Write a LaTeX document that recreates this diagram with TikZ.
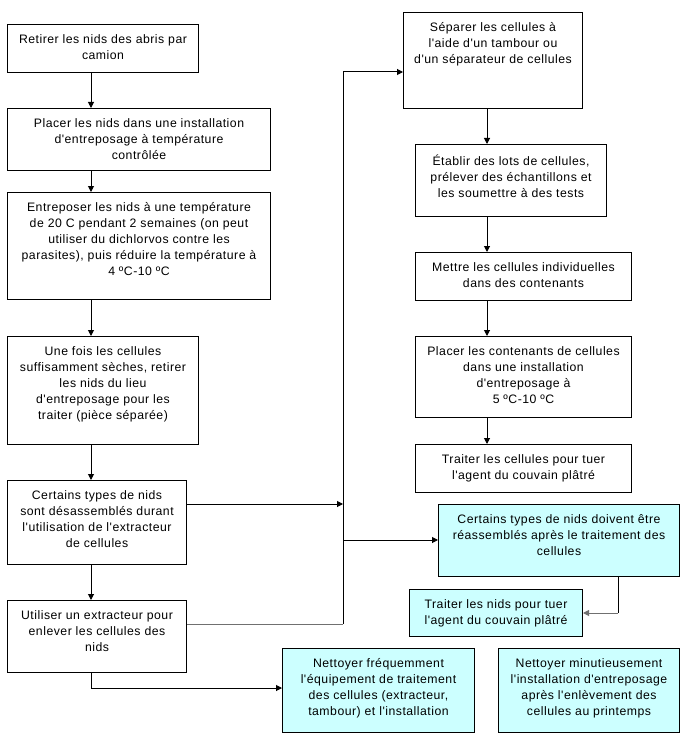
\documentclass[tikz,border=0pt]{standalone}
\usepackage{fontspec}
\setmainfont{Liberation Sans}[Ligatures=TeXOff, LetterSpace=4]
\usetikzlibrary{arrows.meta}
\definecolor{cyanbox}{HTML}{CCFFFF}
\definecolor{greyline}{HTML}{707070}
\newcommand\mkbox[7]{%
  \node[#2, minimum width={(#5-#3)*0.75pt}, minimum height={(#6-#4)*0.75pt}] (#1) at (#3,#4) {};
  \node[txt, yshift=-7.7pt] (#1t) at (#1.north) {#7};}
\begin{document}
\begin{tikzpicture}[x=0.75pt,y=-0.75pt,
  box/.style={draw, line width=0.75pt, fill=white, inner sep=0pt, anchor=north west},
  cbox/.style={box, fill=cyanbox},
  txt/.style={anchor=north, align=center, inner sep=0pt,
    font=\fontsize{9.2pt}{12pt}\selectfont,
    execute at begin node={\rule{0pt}{9.5pt}}},
  arr/.style={-{Triangle[length=4.5pt,width=4.5pt]}, line width=0.75pt},
  ln/.style={line width=0.75pt}]
\useasboundingbox (0,0) rectangle (683,738);
% left column
\mkbox{b1}{box}{7}{24}{198}{72}{Retirer les nids des abris par\\camion}
\mkbox{b2}{box}{7}{108}{270}{170}{Placer les nids dans une installation\\d'entreposage à température\\contrôlée}
\mkbox{b3}{box}{7}{192}{270}{299}{Entreposer les nids à une température\\de 20 C pendant 2 semaines (on peut\\utiliser du dichlorvos contre les\\parasites), puis réduire la température à\\4 ºC-10 ºC}
\mkbox{b4}{box}{7}{336}{198}{444}{Une fois les cellules\\suffisamment sèches, retirer\\les nids du lieu\\d'entreposage pour les\\traiter (pièce séparée)}
\mkbox{b5}{box}{7}{480}{186}{564}{Certains types de nids\\sont désassemblés durant\\l'utilisation de l'extracteur\\de cellules}
\mkbox{b6}{box}{7}{600}{186}{672}{Utiliser un extracteur pour\\enlever les cellules des\\nids}
% right column
\mkbox{r1}{box}{403}{12}{582}{108}{Séparer les cellules à\\l'aide d'un tambour ou\\d'un séparateur de cellules}
\mkbox{r2}{box}{415}{144}{606}{216}{Établir des lots de cellules,\\prélever des échantillons et\\les soumettre à des tests}
\mkbox{r3}{box}{415}{252}{631}{300}{Mettre les cellules individuelles\\dans des contenants}
\mkbox{r4}{box}{415}{336}{631}{417}{Placer les contenants de cellules\\dans une installation\\d'entreposage à\\5 ºC-10 ºC}
\mkbox{r5}{box}{415}{444}{631}{492}{Traiter les cellules pour tuer\\l'agent du couvain plâtré}
% cyan boxes
\mkbox{c1}{cbox}{438}{504}{679}{576}{Certains types de nids doivent être\\réassemblés après le traitement des\\cellules}
\mkbox{c2}{cbox}{409}{589}{582}{636}{Traiter les nids pour tuer\\l'agent du couvain plâtré}
\mkbox{c3}{cbox}{282}{648}{474}{732}{Nettoyer fréquemment\\l'équipement de traitement\\des cellules (extracteur,\\tambour) et l'installation}
\mkbox{c4}{cbox}{498}{648}{679}{732}{Nettoyer minutieusement\\l'installation d'entreposage\\après l'enlèvement des\\cellules au printemps}
% helper coordinates
\coordinate (colL) at (91,0);
\coordinate (colR) at (487,0);
\coordinate (j1) at (343,504);
\coordinate (j2) at (343,624);
\coordinate (j3) at (343,72);
\coordinate (j4) at (343,540);
\coordinate (k1) at (618,613);
\coordinate (k2) at (91,688);
% left column arrows
\draw[arr] (colL |- b1.south) -- (colL |- b2.north);
\draw[arr] (colL |- b2.south) -- (colL |- b3.north);
\draw[arr] (colL |- b3.south) -- (colL |- b4.north);
\draw[arr] (colL |- b4.south) -- (colL |- b5.north);
\draw[arr] (colL |- b5.south) -- (colL |- b6.north);
% right column arrows
\draw[arr] (colR |- r1.south) -- (colR |- r2.north);
\draw[arr] (colR |- r2.south) -- (colR |- r3.north);
\draw[arr] (colR |- r3.south) -- (colR |- r4.north);
\draw[arr] (colR |- r4.south) -- (colR |- r5.north);
% trunk
\draw[ln, draw=greyline] (j2 -| b6.east) -- (j2);
\draw[arr] (j2) -- (j3) -- (j3 -| r1.west);
\draw[arr] (j1 -| b5.east) -- (j1);
\draw[arr] (j4) -- (j4 -| c1.west);
% c1 to c2
\draw[ln] (k1 |- c1.south) -- (k1);
\draw[arr, draw=greyline] (k1) -- (k1 -| c2.east);
% b6 to c3
\draw[arr] (colL |- b6.south) -- (k2) -- (k2 -| c3.west);
\end{tikzpicture}
\end{document}
